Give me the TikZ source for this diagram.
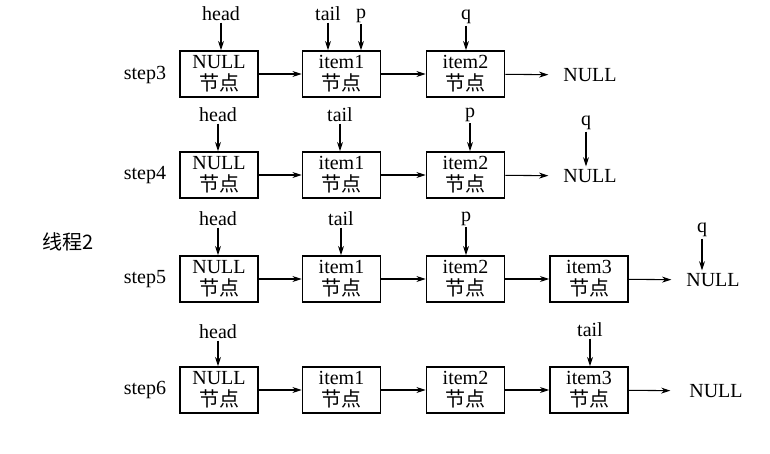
\documentclass[tikz,border=0pt]{standalone}
\usepackage{fontspec}
\setmainfont{Liberation Serif}
\newfontfamily\cjk{Noto Sans CJK SC}
\usetikzlibrary{arrows.meta}
\begin{document}
\begin{tikzpicture}[x=0.75pt,y=-0.75pt,
  every node/.style={font=\fontsize{15}{16.5}\selectfont},
  box/.style={draw, line width=1.2pt, minimum width=58.5pt, minimum height=34.5pt, align=center, inner sep=0pt},
  lbl/.style={inner sep=1pt},
  arr/.style={-{Stealth[length=7pt,width=4.5pt]}, line width=0.8pt},
  nul/.style={inner sep=0pt}]
\fill[white] (0,0) rectangle (770,453);
\useasboundingbox (0,0) rectangle (770,453);

\node (thr) at (68,242) {\cjk 线程2};

% step3
\node (s3) at (145,75) {step3};
\node[box] (a0) at (219,74) {NULL\\{\cjk 节点}};
\node[box] (a1) at (341.5,74) {item1\\{\cjk 节点}};
\node[box] (a2) at (465.5,74) {item2\\{\cjk 节点}};
\node[nul] (an) at (590,75) {NULL};
\draw[arr] (a0) -- (a1);
\draw[arr] (a1) -- (a2);
\draw[arr,shorten >=11pt] (a2) -- (an);
\node[lbl] (ahead) at (221,14) {head};
\node[lbl] (atail) at (328,14) {tail};
\node[lbl] (ap) at (361,16) {p};
\node[lbl] (aq) at (466,17) {q};
\draw[arr] (ahead.south) -- (ahead.south |- a0.north);
\draw[arr] (atail.south) -- (atail.south |- a1.north);
\draw[arr] (ap.south) -- (ap.south |- a1.north);
\draw[arr] (aq.south) -- (aq.south |- a2.north);

% step4
\node (s4) at (145,175) {step4};
\node[box] (b0) at (219,175) {NULL\\{\cjk 节点}};
\node[box] (b1) at (341.5,175) {item1\\{\cjk 节点}};
\node[box] (b2) at (465.5,175) {item2\\{\cjk 节点}};
\node[nul] (bn) at (590,176) {NULL};
\draw[arr] (b0) -- (b1);
\draw[arr] (b1) -- (b2);
\draw[arr,shorten >=11pt] (b2) -- (bn);
\node[lbl] (bhead) at (218,115) {head};
\node[lbl] (btail) at (340,115) {tail};
\node[lbl] (bp) at (470,115) {p};
\node[lbl] (bq) at (586,123) {q};
\draw[arr] (bhead.south) -- (bhead.south |- b0.north);
\draw[arr] (btail.south) -- (btail.south |- b1.north);
\draw[arr] (bp.south) -- (bp.south |- b2.north);
\draw[arr,shorten >=2pt] (bq.south) -- (bq.south |- bn.north);

% step5
\node (s5) at (145,279) {step5};
\node[box] (c0) at (219,279) {NULL\\{\cjk 节点}};
\node[box] (c1) at (341.5,279) {item1\\{\cjk 节点}};
\node[box] (c2) at (465.5,279) {item2\\{\cjk 节点}};
\node[box] (c3) at (589,279) {item3\\{\cjk 节点}};
\node[nul] (cn) at (713,280) {NULL};
\draw[arr] (c0) -- (c1);
\draw[arr] (c1) -- (c2);
\draw[arr] (c2) -- (c3);
\draw[arr,shorten >=11pt] (c3) -- (cn);
\node[lbl] (chead) at (218,219) {head};
\node[lbl] (ctail) at (341,219) {tail};
\node[lbl] (cp) at (466,219) {p};
\node[lbl] (cq) at (702,230) {q};
\draw[arr] (chead.south) -- (chead.south |- c0.north);
\draw[arr] (ctail.south) -- (ctail.south |- c1.north);
\draw[arr] (cp.south) -- (cp.south |- c2.north);
\draw[arr,shorten >=2pt] (cq.south) -- (cq.south |- cn.north);

% step6
\node (s6) at (145,390) {step6};
\node[box] (d0) at (219,390) {NULL\\{\cjk 节点}};
\node[box] (d1) at (341.5,390) {item1\\{\cjk 节点}};
\node[box] (d2) at (465.5,390) {item2\\{\cjk 节点}};
\node[box] (d3) at (589,390) {item3\\{\cjk 节点}};
\node[nul] (dn) at (716,391) {NULL};
\draw[arr] (d0) -- (d1);
\draw[arr] (d1) -- (d2);
\draw[arr] (d2) -- (d3);
\draw[arr,shorten >=14pt] (d3) -- (dn);
\node[lbl] (dhead) at (218,332) {head};
\node[lbl] (dtail) at (590,330) {tail};
\draw[arr] (dhead.south) -- (dhead.south |- d0.north);
\draw[arr] (dtail.south) -- (dtail.south |- d3.north);
\end{tikzpicture}
\end{document}
